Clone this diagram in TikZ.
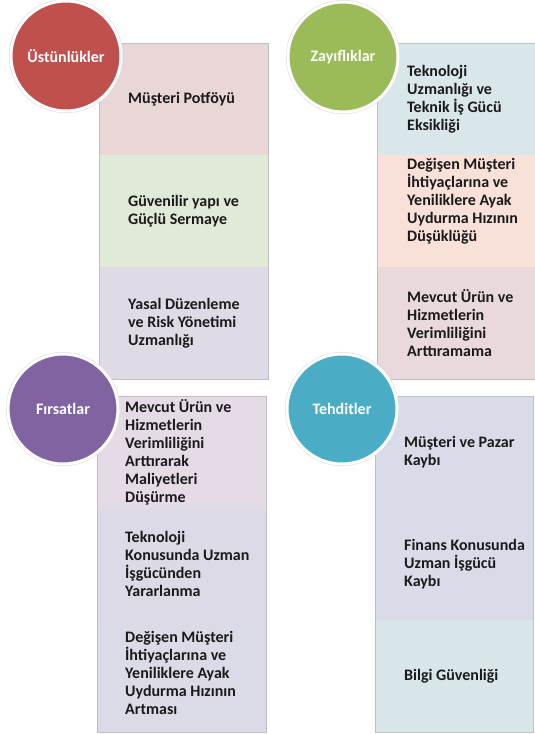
\documentclass[tikz,border=0pt]{standalone}
\usepackage{fontspec}
\setmainfont{Carlito}
\usetikzlibrary{positioning}
\definecolor{swred}{HTML}{C0504D}
\definecolor{swgreen}{HTML}{9BBB59}
\definecolor{swpurple}{HTML}{8064A2}
\definecolor{swaqua}{HTML}{4BACC6}
\definecolor{tla}{HTML}{E9D7D7}
\definecolor{tlb}{HTML}{E1EAD8}
\definecolor{tlc}{HTML}{E0DAE6}
\definecolor{tra}{HTML}{D9E6EA}
\definecolor{trb}{HTML}{F9E0D8}
\definecolor{trc}{HTML}{E9D9DA}
\definecolor{bla}{HTML}{E4DBE6}
\definecolor{blb}{HTML}{DCDAE6}
\definecolor{blc}{HTML}{DBDAE7}
\definecolor{bra}{HTML}{D9DCE8}
\definecolor{brb}{HTML}{D9DCE8}
\definecolor{brc}{HTML}{D8E6EA}
\definecolor{txtgray}{HTML}{1A1A1A}
\tikzset{
  cell/.style={rectangle,minimum height=112pt,inner sep=0pt,outer sep=0pt},
  cellL/.style={cell,minimum width=169pt},
  cellR/.style={cell,minimum width=158pt},
  celltext/.style={anchor=west,inner sep=0pt,align=left,text=txtgray,font=\fontsize{16}{18}\selectfont\bfseries},
  badge/.style={circle,minimum size=110pt,inner sep=0pt,fill=#1,draw=white,line width=3pt,
    preaction={draw=black!12,line width=4.2pt},text=white,font=\fontsize{16}{18}\selectfont\bfseries},
  panel/.style={draw=black!25,line width=0.6pt}
}

\begin{document}
\begin{tikzpicture}[line cap=round,line join=round,x=1pt,y=-1pt]
\useasboundingbox (0,0) rectangle (535,734);
\node[cellL,fill=tla] (tl1) at (183.5,99) {};
\node[cellL,fill=tlb,below=0pt of tl1] (tl2) {};
\node[cellL,fill=tlc,below=0pt of tl2] (tl3) {};
\draw[panel] (tl1.north west) rectangle (tl3.south east);
\node[cellR,fill=tra] (tr1) at (456,99) {};
\node[cellR,fill=trb,below=0pt of tr1] (tr2) {};
\node[cellR,fill=trc,below=0pt of tr2] (tr3) {};
\draw[panel] (tr1.north west) rectangle (tr3.south east);
\node[cellL,fill=bla] (bl1) at (181.5,452) {};
\node[cellL,fill=blb,below=0pt of bl1] (bl2) {};
\node[cellL,fill=blc,below=0pt of bl2] (bl3) {};
\draw[panel] (bl1.north west) rectangle (bl3.south east);
\node[cellR,fill=bra] (br1) at (454,452) {};
\node[cellR,fill=brb,below=0pt of br1] (br2) {};
\node[cellR,fill=brc,below=0pt of br2] (br3) {};
\draw[panel] (br1.north west) rectangle (br3.south east);
\node[celltext,right=29pt of tl1.west] (tl1t) {Müşteri Potföyü};
\node[celltext,right=29pt of tl2.west] (tl2t) {Güvenilir yapı ve\\Güçlü Sermaye};
\node[celltext,right=29pt of tl3.west] (tl3t) {Yasal Düzenleme\\ve Risk Yönetimi\\Uzmanlığı};
\node[celltext,right=30pt of tr1.west] (tr1t) {Teknoloji\\Uzmanlığı ve\\Teknik İş Gücü\\Eksikliği};
\node[celltext,right=30pt of tr2.west,yshift=10pt] (tr2t) {Değişen Müşteri\\İhtiyaçlarına ve\\Yeniliklere Ayak\\Uydurma Hızının\\Düşüklüğü};
\node[celltext,right=30pt of tr3.west] (tr3t) {Mevcut Ürün ve\\Hizmetlerin\\Verimliliğini\\Arttıramama};
\node[celltext,right=28pt of bl1.west] (bl1t) {Mevcut Ürün ve\\Hizmetlerin\\Verimliliğini\\Arttırarak\\Maliyetleri\\Düşürme};
\node[celltext,right=28pt of bl2.west] (bl2t) {Teknoloji\\Konusunda Uzman\\İşgücünden\\Yararlanma};
\node[celltext,right=28pt of bl3.west,yshift=3pt] (bl3t) {Değişen Müşteri\\İhtiyaçlarına ve\\Yeniliklere Ayak\\Uydurma Hızının\\Artması};
\node[celltext,right=29pt of br1.west] (br1t) {Müşteri ve Pazar\\Kaybı};
\node[celltext,right=29pt of br2.west] (br2t) {Finans Konusunda\\Uzman İşgücü\\Kaybı};
\node[celltext,right=29pt of br3.west] (br3t) {Bilgi Güvenliği};
\node[badge=swred] (ust) at (66,56) {Üstünlükler};
\node[badge=swgreen] (zay) at (343,57) {Zayıflıklar};
\node[badge=swpurple] (fir) at (63,409) {Fırsatlar};
\node[badge=swaqua] (teh) at (342,409) {Tehditler};
\end{tikzpicture}
\end{document}
